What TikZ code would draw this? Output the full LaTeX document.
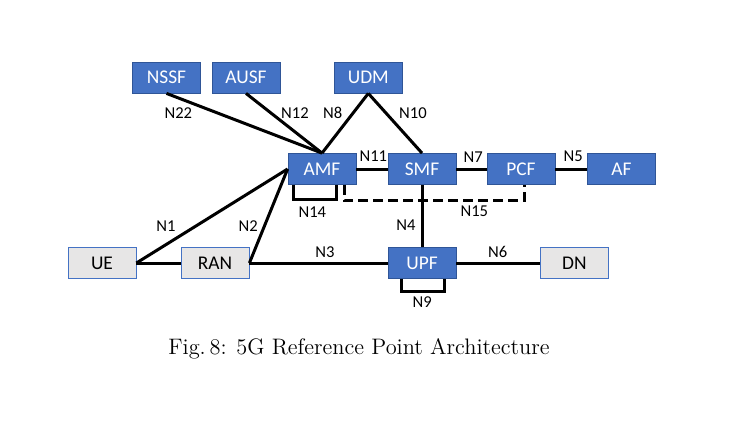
\documentclass[tikz,border=0pt]{standalone}
\usepackage{fontspec}
\setsansfont{Carlito}
\usetikzlibrary{calc}
\definecolor{nfblue}{HTML}{4472C4}
\definecolor{nfborder}{HTML}{2F5597}
\definecolor{extgray}{HTML}{E7E6E6}
\begin{document}
\begin{tikzpicture}[x=0.5pt,y=-0.5pt,
  nf/.style={draw=nfborder, line width=0.4pt, fill=nfblue, text=white, minimum width=34pt, minimum height=15.5pt, inner sep=0pt, font=\sffamily\fontsize{9.7}{10}\selectfont},
  ext/.style={draw=nfblue, line width=0.4pt, fill=extgray, text=black, minimum width=34pt, minimum height=15.5pt, inner sep=0pt, font=\sffamily\fontsize{9.7}{10}\selectfont},
  lbl/.style={inner sep=0pt, font=\sffamily\fontsize{8.3}{9}\selectfont},
  link/.style={line width=1.5pt, black},
  dlink/.style={line width=1.5pt, black, dash pattern=on 5pt off 2.5pt}]
\useasboundingbox (0,0) rectangle (737,440);
% nodes
\node[nf] (nssf) at (166.5,77.5) {NSSF};
\node[nf] (ausf) at (246,77.5) {AUSF};
\node[nf] (udm) at (368.3,77.5) {UDM};
\node[nf] (amf) at (322,169) {AMF};
\node[nf] (smf) at (422,169) {SMF};
\node[nf] (pcf) at (521,169) {PCF};
\node[nf] (af) at (621.5,169) {AF};
\node[nf] (upf) at (422,263) {UPF};
\node[ext] (dn) at (574.3,263) {DN};
\node[ext] (ue) at (102,263) {UE};
\node[ext] (ran) at (215,263) {RAN};
% connectors
\draw[link] (nssf.south) -- (amf.north);
\draw[link] (ausf.south) -- (amf.north);
\draw[link] (udm.south) -- (amf.north);
\draw[link] (udm.south) -- (smf.north);
\draw[link] (amf) -- (smf);
\draw[link] (smf) -- (pcf);
\draw[link] (pcf) -- (af);
\draw[link] (smf) -- (upf);
\draw[link] (upf) -- (dn);
\draw[link] (ue) -- (ran);
\draw[link] (ran.east) -- (upf.west);
\draw[link] (ue.east) -- (amf.west);
\draw[link] (ran.east) -- (amf.west);
\draw[link] ($(amf.south west)+(6,0)$) -- ++(0,15) -| ($(amf.south)+(14,0)$);
\draw[dlink] ($(amf.south)+(22,0)$) -- ++(0,16) -| ($(pcf.south)+(3,0)$);
\draw[link] ($(upf.south)+(-21,0)$) -- ++(0,13) -| ($(upf.south)+(22,0)$);
% labels
\node[lbl] (l22) at (178.3,113.3) {N22};
\node[lbl] (l12) at (295,113.3) {N12};
\node[lbl] (l8) at (332.7,113.3) {N8};
\node[lbl] (l10) at (413,113.3) {N10};
\node[lbl] (l11) at (373.3,156) {N11};
\node[lbl] (l7) at (473.3,156.7) {N7};
\node[lbl] (l5) at (573.3,156.7) {N5};
\node[lbl] (l14) at (312.3,211.7) {N14};
\node[lbl] (l15) at (474.3,211) {N15};
\node[lbl] (l4) at (406,225) {N4};
\node[lbl] (l1) at (166,226) {N1};
\node[lbl] (l2) at (248.3,226) {N2};
\node[lbl] (l3) at (325,251.7) {N3};
\node[lbl] (l6) at (497.7,251.7) {N6};
\node[lbl] (l9) at (422.3,301.7) {N9};
% caption
\node[inner sep=0pt, font=\fontsize{11.2}{13}\selectfont] (cap) at (359,349) {Fig.\,8: 5G Reference Point Architecture};
\end{tikzpicture}
\end{document}
